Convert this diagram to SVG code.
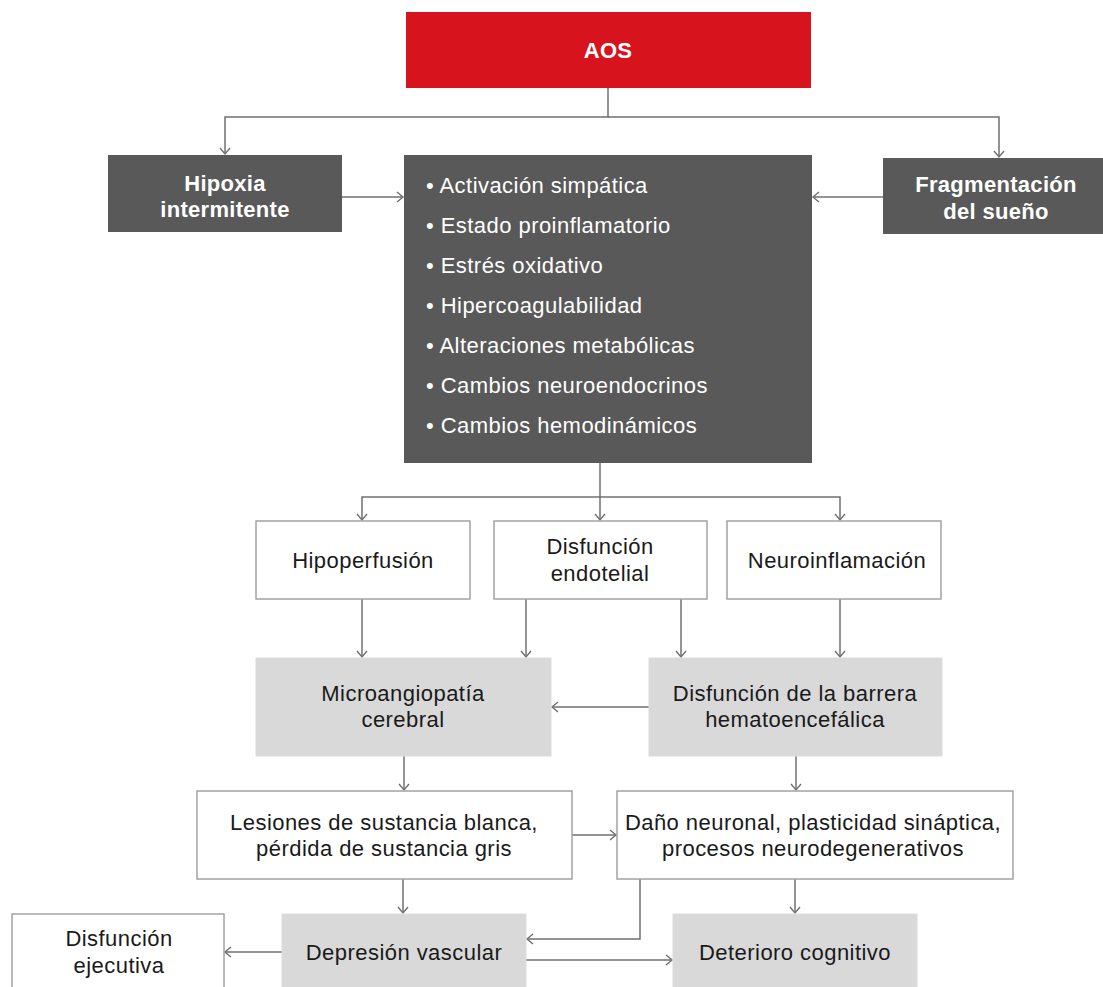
<svg xmlns="http://www.w3.org/2000/svg" width="1103" height="987" viewBox="0 0 1103 987">
  <style>
    .red { fill: #d7141e; }
    .dark { fill: #595959; }
    .white { fill: #ffffff; stroke: #a3a3a3; stroke-width: 1.5; }
    .light { fill: #d9d9d9; stroke: #dcdcdc; stroke-width: 1; }
    text { font-family: "Liberation Sans", Arial, sans-serif; font-size: 22px; text-anchor: middle; letter-spacing: 0.45px; }
    .bold { font-weight: bold; fill: #ffffff; letter-spacing: 0.3px; }
    .list { fill: #ffffff; text-anchor: start; }
    .label { fill: #1a1a1a; }
    .conn path { fill: none; stroke: #707070; stroke-width: 1.5; marker-end: url(#arrow); }
  </style>
  <defs>
    <marker id="arrow" markerUnits="userSpaceOnUse" markerWidth="12" markerHeight="12" refX="0" refY="0" viewBox="-8 -6 10 12" orient="auto">
      <path d="M-6,-5 L0,0 L-6,5" fill="none" stroke="#707070" stroke-width="1.4"/>
    </marker>
  </defs>
  <rect width="1103" height="987" fill="#ffffff"/>

  <!-- connectors -->
  <g id="connectors" class="conn">
    <path d="M608,88 V117 H225 V154"/>
    <path d="M608,117 H999 V157"/>
    <path d="M342,197 H403"/>
    <path d="M883,197 H813"/>
    <path d="M600,463 V520"/>
    <path d="M600,497 H362 V520"/>
    <path d="M600,497 H840 V520"/>
    <path d="M362,599 V657"/>
    <path d="M526,599 V657"/>
    <path d="M681,599 V657"/>
    <path d="M840,599 V657"/>
    <path d="M649,707 H552"/>
    <path d="M404,756 V790"/>
    <path d="M796,756 V790"/>
    <path d="M572,835 H616"/>
    <path d="M403,879 V913"/>
    <path d="M795,879 V913"/>
    <path d="M640,879 V939 H527"/>
    <path d="M282,952 H225"/>
    <path d="M526,960 H672"/>
  </g>

  <g id="aos">
    <rect class="red" x="406" y="12" width="405" height="76"/>
    <text class="bold" x="608" y="58">AOS</text>
  </g>

  <g id="hipoxia">
    <rect class="dark" x="108" y="155" width="234" height="77"/>
    <text class="bold" x="225" y="191">Hipoxia</text>
    <text class="bold" x="225" y="217">intermitente</text>
  </g>

  <g id="fragmentacion">
    <rect class="dark" x="883" y="158" width="225" height="76"/>
    <text class="bold" x="996" y="192">Fragmentación</text>
    <text class="bold" x="996" y="219">del sueño</text>
  </g>

  <g id="mecanismos">
    <rect class="dark" x="404" y="155" width="408" height="308"/>
    <text class="list" x="426" y="193">• Activación simpática</text>
    <text class="list" x="426" y="233">• Estado proinflamatorio</text>
    <text class="list" x="426" y="273">• Estrés oxidativo</text>
    <text class="list" x="426" y="313">• Hipercoagulabilidad</text>
    <text class="list" x="426" y="353">• Alteraciones metabólicas</text>
    <text class="list" x="426" y="393">• Cambios neuroendocrinos</text>
    <text class="list" x="426" y="433">• Cambios hemodinámicos</text>
  </g>

  <g id="hipoperfusion">
    <rect class="white" x="256" y="521" width="214" height="78"/>
    <text class="label" x="363" y="568">Hipoperfusión</text>
  </g>

  <g id="disfuncion-endotelial">
    <rect class="white" x="494" y="521" width="213" height="78"/>
    <text class="label" x="600" y="554">Disfunción</text>
    <text class="label" x="600" y="581">endotelial</text>
  </g>

  <g id="neuroinflamacion">
    <rect class="white" x="727" y="521" width="214" height="78"/>
    <text class="label" x="837" y="568">Neuroinflamación</text>
  </g>

  <g id="microangiopatia">
    <rect class="light" x="256" y="658" width="295" height="98"/>
    <text class="label" x="403" y="701">Microangiopatía</text>
    <text class="label" x="403" y="727">cerebral</text>
  </g>

  <g id="barrera">
    <rect class="light" x="649" y="658" width="293" height="98"/>
    <text class="label" x="795" y="701">Disfunción de la barrera</text>
    <text class="label" x="795" y="727">hematoencefálica</text>
  </g>

  <g id="lesiones">
    <rect class="white" x="197" y="791" width="375" height="88"/>
    <text class="label" x="384" y="830">Lesiones de sustancia blanca,</text>
    <text class="label" x="384" y="856">pérdida de sustancia gris</text>
  </g>

  <g id="dano-neuronal">
    <rect class="white" x="617" y="791" width="396" height="88"/>
    <text class="label" x="813" y="830">Daño neuronal, plasticidad sináptica,</text>
    <text class="label" x="813" y="856">procesos neurodegenerativos</text>
  </g>

  <g id="disfuncion-ejecutiva">
    <rect class="white" x="12" y="914" width="212" height="90"/>
    <text class="label" x="119" y="946">Disfunción</text>
    <text class="label" x="119" y="973">ejecutiva</text>
  </g>

  <g id="depresion">
    <rect class="light" x="282" y="914" width="244" height="90"/>
    <text class="label" x="404" y="960">Depresión vascular</text>
  </g>

  <g id="deterioro">
    <rect class="light" x="673" y="914" width="244" height="90"/>
    <text class="label" x="795" y="960">Deterioro cognitivo</text>
  </g>
</svg>
